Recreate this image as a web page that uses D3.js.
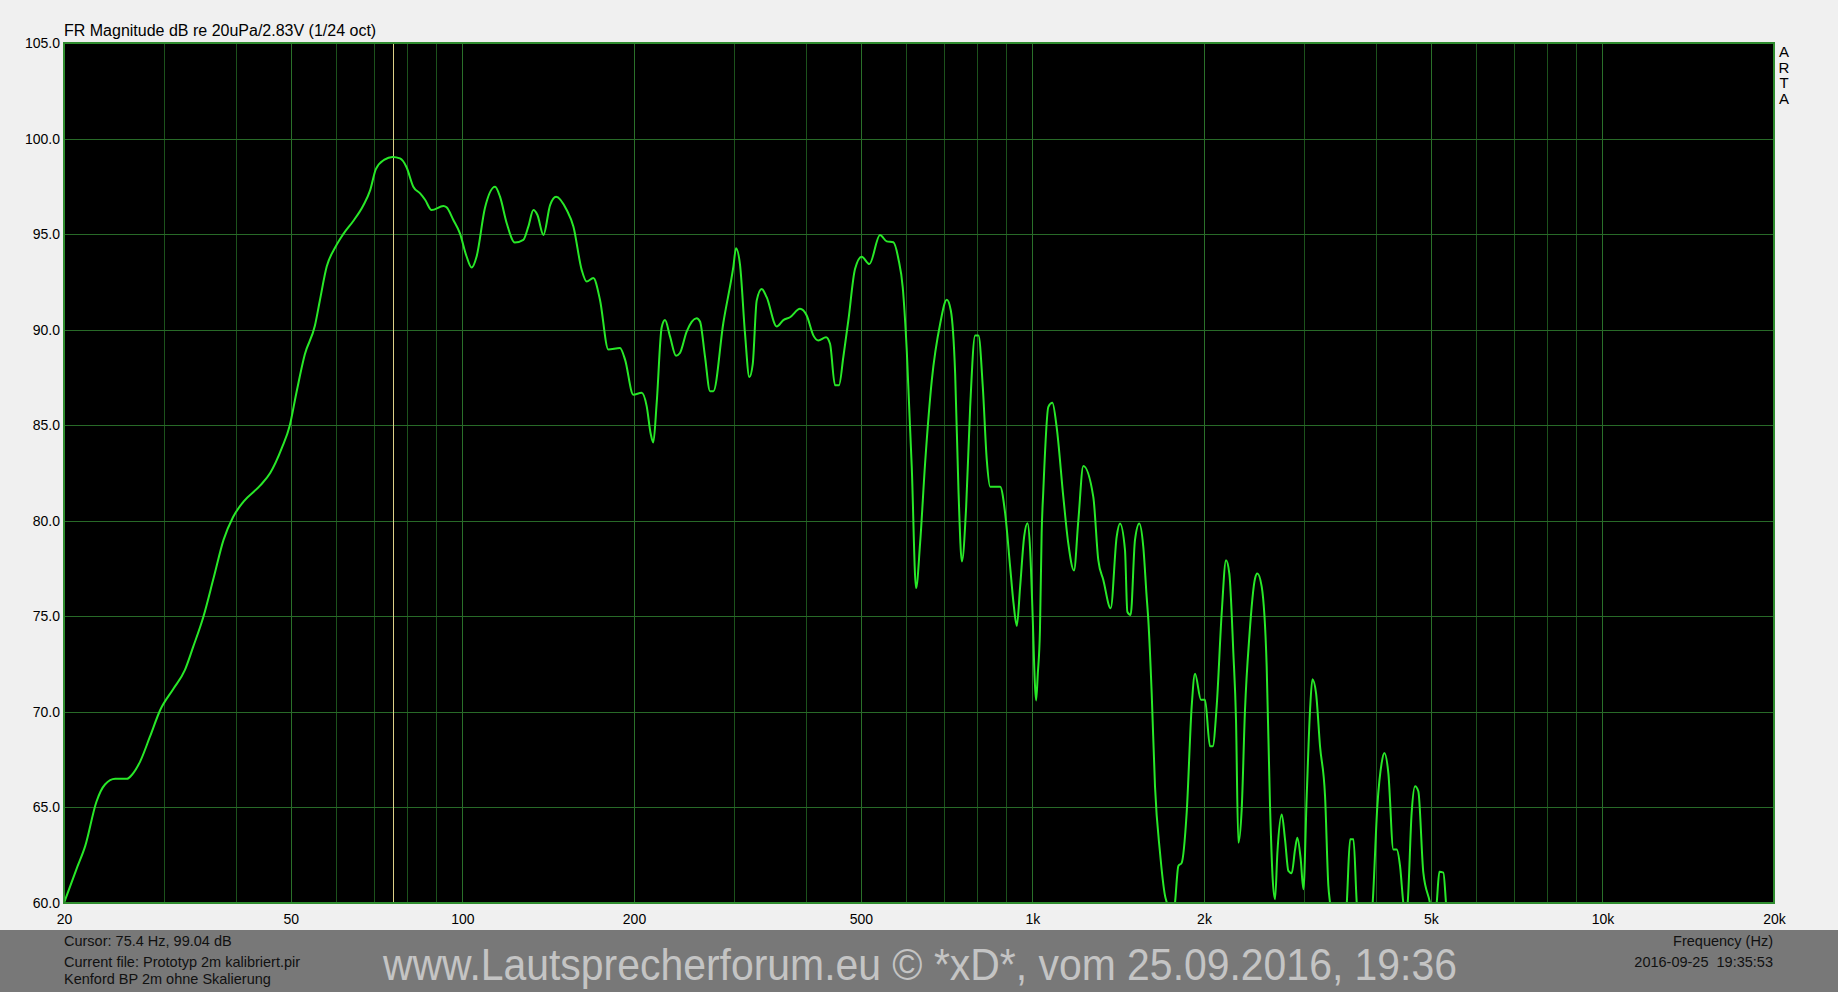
<!DOCTYPE html>
<html>
<head>
<meta charset="utf-8">
<script src="https://cdn.jsdelivr.net/npm/d3@7/dist/d3.min.js"></script>
<style>
  html, body { margin: 0; padding: 0; background: #f0f0f0; }
  svg { display: block; }
  text { font-family: "Liberation Sans", Arial, sans-serif; }
</style>
</head>
<body>
<svg id="chart" width="1838" height="992"></svg>
<script>
// ---- data ----
const freqHz = [20,21.05,21.8,22.8,23.6,24.6,25.8,26.3,27.2,28.3,29.5,31.1,32.6,33.7,35.1,36.6,38.1,39.6,41.3,44.2,46.0,48.2,49.8,51.1,52.9,55.1,56.2,57.8,59.8,61.8,64.4,67.0,68.9,70.5,73.0,75.4,
  77.7,79.8,82.0,84.3,86.0,88.3,92.6,93.8,96.4,99.0,101.7,103.8,105.9,109.5,114.1,116.4,119.6,123.6,127.9,130.5,133.2,135.4,138.7,142.5,146.0,152.4,156.6,161.9,165.2,169.7,174.3,180.3,189.0,192.9,199.4,206.3,210.5,213.9,216.2,219.2,223.6,226.7,231.3,237.0,240.8,247.4,257.6,261.1,266.4,271.9,275.6,286.9,298.8,302.0,
  306.9,313.2,318.7,323.1,328.3,335.0,341.8,355.9,365.6,375.6,391.1,401.8,412.7,421.2,434.4,441.5,450.5,457.8,465.9,475.4,488.4,501.7,517.5,540.3,555.1,570.2,582.0,592.2,602.0,614.2,625.0,635.3,648.2,666.0,688.8,707.6,719.2,731.9,741.8,752.0,765.2,777.7,793.4,804.2,818.4,831.7,843.1,877.8,895.7,913.9,926.4,938.9,951.7,967.2,980.4,990.9,1001,1010,1015,1022,1031,1038,
  1045.1,1066.5,1083.9,1102.9,1133.0,1156.1,1182.8,1203.7,1228.3,1278.8,1305.0,1331.7,1371.8,1405.4,1424.4,1453.5,1467.3,1487.0,1513.3,1540.0,1565.0,1586.4,1597.2,1619.0,1640.9,1674.5,1708.8,1724.9,1750,1778.9,1803.2,1827.5,1864.8,1903.0,1928.7,1976.0,2008.3,2049.1,2071.4,2105.0,2148.1,2186.1,2215.6,2251.9,2276.0,2297.6,2328.9,2360.3,2402.0,2457.9,2481.2,2525.0,2576.3,2611.4,2639.8,2664.8,2690.1,2737.6,2774.5,2812.4,2850.2,2889.2,2916.0,2955.9,2988.1,3028.3,3069.7,3098.8,3144.8,3195.9,3261.3,3305.2,3328.0,3440,3560.7,3608.6,3657.9,3707.1,3830,3953.0,4028.4,4099.5,4144.0,4211.5,4297.6,4355.5,4415.0,4474.3,4510,4553.3,4627.3,4690.6,4753.7,4850.9,4983.4,5050,5119.5,5175.2,5259.3,5316.5,5400,5600];
const magDb = [60.0,61.8,63.0,65.3,66.2,66.5,66.5,66.7,67.4,68.7,70.1,71.2,72.2,73.4,74.95,77.0,79.0,80.2,81.0,81.85,82.5,83.8,85.0,86.65,88.7,90.2,91.5,93.3,94.3,95.0,95.7,96.5,97.3,98.4,98.9,99.04,
  98.96,98.5,97.48,97.13,96.8,96.26,96.47,96.4,95.74,95.04,93.83,93.25,93.83,96.35,97.48,96.96,95.57,94.56,94.7,95.39,96.26,96.0,94.96,96.52,96.96,96.26,95.39,93.13,92.52,92.7,91.57,88.96,89.04,88.43,86.6,86.7,86.0,84.57,84.1,86.17,90.1,90.5,89.65,88.64,88.78,89.9,90.6,90.43,88.6,86.78,86.78,90.35,93.3,94.26,
  93.4,89.78,87.52,88.2,91.52,92.13,91.7,90.17,90.5,90.65,91.09,90.74,89.7,89.43,89.6,89.26,87.09,87.09,88.57,90.48,93.17,93.82,93.43,94.95,94.62,94.57,93.7,92.22,88.9,82.83,76.48,78.83,83.0,87.35,90.3,91.56,91.0,87.7,81.6,77.87,80.74,85.96,89.7,89.7,87.0,83.17,81.78,81.78,80.39,77.6,75.7,74.5,76.57,79.17,79.87,78.48,75.0,71.5,70.6,72.0,74.3,79.35,
  81.6,85.96,86.17,84.9,81.25,78.8,77.4,80.0,82.86,81.25,77.94,76.9,75.42,79.16,79.86,78.47,75.24,75.07,78.99,79.86,78.64,76.03,74.8,70.98,66.1,62.63,60.37,59.9,58.5,60.0,61.94,62.1,64.72,70.29,71.99,70.63,70.63,68.2,68.2,70.29,75.16,77.94,77.24,73.07,69.6,63.16,64.9,70.11,73.94,76.98,77.24,76.55,72.37,65.07,61.24,60.2,62.63,64.63,63.33,61.68,61.56,62.8,63.42,62.29,60.72,65.59,70.11,71.71,70.98,68.2,65.59,60.9,60.0,56.5,60.0,63.33,63.33,60.0,57.0,60.0,65.07,67.33,67.85,66.8,62.8,62.8,61.94,60.0,59.3,60.0,64.72,66.11,65.85,61.59,60.0,59.0,60.0,61.63,61.59,60.0,57.5,55.0];

const yTicks = [60,65,70,75,80,85,90,95,100,105];
const xTickValues = [20,50,100,200,500,1000,2000,5000,10000,20000];
const xTickLabels = ["20","50","100","200","500","1k","2k","5k","10k","20k"];
const xGridMinor = [30,40,60,70,80,90,300,400,600,700,800,900,3000,4000,6000,7000,8000,9000];
const cursorHz = 75.4;

const titleText = "FR Magnitude dB re 20uPa/2.83V (1/24 oct)";
const cursorText = "Cursor: 75.4 Hz, 99.04 dB";
const fileText = "Current file: Prototyp 2m kalibriert.pir";
const noteText = "Kenford BP 2m ohne Skalierung";
const axisTitle = "Frequency (Hz)";
const dateText = "2016-09-25\u00A0\u00A019:35:53";
const watermark = "www.Lautsprecherforum.eu \u00A9 *xD*, vom 25.09.2016, 19:36";
const brand = ["A","R","T","A"];

// ---- layout ----
const L = 64, R = 1774, T = 43, B = 903;
const svg = d3.select("#chart");
const x = d3.scaleLog().domain([20, 20000]).range([L, R]);
const y = d3.scaleLinear().domain([60, 105]).range([B, T]);

svg.append("rect").attr("x", 0).attr("y", 0).attr("width", 1838).attr("height", 992).attr("fill", "#f0f0f0");
svg.append("rect").attr("x", 0).attr("y", 930).attr("width", 1838).attr("height", 62).attr("fill", "#787878");

svg.append("rect").attr("x", L).attr("y", T).attr("width", R - L).attr("height", B - T).attr("fill", "#000");

const grid = svg.append("g");
grid.selectAll("line.minor").data(xGridMinor).join("line")
  .attr("x1", d => Math.round(x(d)) + 0.5).attr("x2", d => Math.round(x(d)) + 0.5)
  .attr("y1", T).attr("y2", B).attr("stroke", "#1c521c").attr("stroke-width", 1);
grid.selectAll("line.major").data(xTickValues.slice(1, -1)).join("line")
  .attr("x1", d => Math.round(x(d)) + 0.5).attr("x2", d => Math.round(x(d)) + 0.5)
  .attr("y1", T).attr("y2", B).attr("stroke", "#2a702a").attr("stroke-width", 1);
grid.selectAll("line.h").data(yTicks.slice(1, -1)).join("line")
  .attr("x1", L).attr("x2", R)
  .attr("y1", d => Math.round(y(d)) + 0.5).attr("y2", d => Math.round(y(d)) + 0.5)
  .attr("stroke", "#286a28").attr("stroke-width", 1);

// cursor
svg.append("line")
  .attr("x1", Math.round(x(cursorHz)) + 0.5).attr("x2", Math.round(x(cursorHz)) + 0.5)
  .attr("y1", T).attr("y2", B).attr("stroke", "#ddd088").attr("stroke-width", 1);

// curve
svg.append("clipPath").attr("id", "clip").append("rect")
  .attr("x", L).attr("y", T).attr("width", R - L).attr("height", B - T);
const pts = freqHz.map((f, i) => [f, magDb[i]]);
const line = d3.line().x(d => x(d[0])).y(d => y(d[1])).curve(d3.curveMonotoneX);
svg.append("path").datum(pts).attr("clip-path", "url(#clip)")
  .attr("d", line).attr("fill", "none").attr("stroke", "#28e828").attr("stroke-width", 2)
  .attr("stroke-linejoin", "round");

// border
svg.append("rect").attr("x", L).attr("y", T).attr("width", R - L).attr("height", B - T)
  .attr("fill", "none").attr("stroke", "#2f8c2f").attr("stroke-width", 2);

// axes
const yAxis = svg.append("g").attr("transform", `translate(${L},0)`)
  .call(d3.axisLeft(y).tickValues(yTicks).tickFormat(d3.format(".1f")).tickSize(0).tickPadding(4));
const xAxis = svg.append("g").attr("transform", `translate(0,${B})`)
  .call(d3.axisBottom(x).tickValues(xTickValues).tickFormat((d, i) => xTickLabels[i]).tickSize(0).tickPadding(11));
[yAxis, xAxis].forEach(a => {
  a.select(".domain").remove();
  a.selectAll("text").attr("fill", "#000").style("font-size", "14px")
    .style("font-family", '"Liberation Sans", Arial, sans-serif');
});

// texts
svg.append("text").attr("x", 64).attr("y", 36).attr("font-size", 16).attr("fill", "#000").text(titleText);
svg.selectAll("text.brand").data(brand).join("text")
  .attr("x", 1784).attr("y", (d, i) => 57 + i * 15.6).attr("text-anchor", "middle")
  .attr("font-size", 15).attr("fill", "#000").text(d => d);

svg.append("text").attr("x", 64).attr("y", 946).attr("font-size", 14.5).attr("fill", "#111").text(cursorText);
svg.append("text").attr("x", 64).attr("y", 967).attr("font-size", 14.5).attr("fill", "#111").text(fileText);
svg.append("text").attr("x", 64).attr("y", 984).attr("font-size", 14.5).attr("fill", "#111").text(noteText);
svg.append("text").attr("x", 1773).attr("y", 946).attr("text-anchor", "end").attr("font-size", 14.5).attr("fill", "#111").text(axisTitle);
svg.append("text").attr("x", 1773).attr("y", 967).attr("text-anchor", "end").attr("font-size", 14.5).attr("fill", "#111").text(dateText);

svg.append("text").attr("x", 383).attr("y", 980).attr("font-size", 45)
  .attr("textLength", 1074).attr("lengthAdjust", "spacingAndGlyphs")
  .attr("fill", "#c4c4c4").text(watermark);
</script>
</body>
</html>
